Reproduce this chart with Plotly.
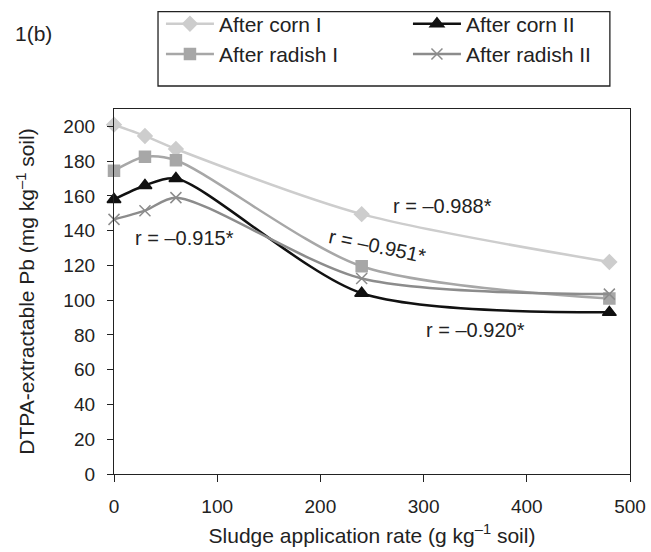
import plotly.graph_objects as go

rates = [0, 30, 60, 240, 480]
corn1 = [201, 194.5, 187, 149.5, 122]
radish1 = [174.5, 182.5, 180.5, 119.5, 101]
corn2 = [158, 166, 170, 104, 93]
radish2 = [146.5, 151.5, 159, 112.5, 103.5]

series_names = ["After corn I", "After corn II", "After radish I", "After radish II"]
x_ticks = [0, 100, 200, 300, 400, 500]
y_ticks = [0, 20, 40, 60, 80, 100, 120, 140, 160, 180, 200]

r_labels = ["r = –0.988*", "r = –0.951*", "r = –0.915*", "r = –0.920*"]
r_x = [318, 255, 68, 350]
r_y = [154, 131, 136, 83]
r_angle = [0, 12, 0, 0]

FONT = "Liberation Sans, Arial, sans-serif"
INK = "#222222"

fig = go.Figure()
styles = {
    "After corn I": (corn1, "#cdcdcd", "diamond", 11),
    "After corn II": (corn2, "#111111", "triangle-up", 12),
    "After radish I": (radish1, "#a7a7a7", "square", 11),
    "After radish II": (radish2, "#8c8c8c", "x-thin-open", 11),
}
for name in series_names:
    ys, col, sym, sz = styles[name]
    fig.add_trace(go.Scatter(
        x=rates, y=ys, name=name, mode="lines+markers", cliponaxis=False,
        line=dict(color=col, width=2.5, shape="spline", smoothing=0.8),
        marker=dict(symbol=sym, size=sz, color=col, line=dict(color=col, width=1.5)),
    ))

for t, x, y, a in zip(r_labels, r_x, r_y, r_angle):
    fig.add_annotation(x=x, y=y, text=t, showarrow=False, textangle=a,
                       font=dict(size=20, color=INK, family=FONT))

fig.add_annotation(xref="paper", yref="paper", x=-0.196, y=1.208, text="1(b)",
                   showarrow=False, xanchor="left", yanchor="middle",
                   font=dict(size=21, color=INK, family=FONT))

fig.add_shape(type="rect", xref="paper", yref="paper", x0=0.0853, x1=0.961, y0=1.063, y1=1.2666,
              line=dict(color=INK, width=1.3), fillcolor="rgba(0,0,0,0)")

fig.update_layout(
    width=651, height=552,
    margin=dict(l=114, r=21, t=109, b=78, autoexpand=False),
    paper_bgcolor="white", plot_bgcolor="white",
    font=dict(family=FONT, size=19, color=INK),
    showlegend=True,
    legend=dict(orientation="h", x=0.091, y=1.289, xanchor="left", yanchor="top",
                entrywidth=184, traceorder="normal", font=dict(size=21, color=INK),
                bgcolor="rgba(0,0,0,0)", borderwidth=0, itemwidth=48),
    xaxis=dict(range=[0, 500], tickvals=x_ticks, showgrid=False, zeroline=False,
               showline=True, linecolor=INK, linewidth=1.3, mirror=True,
               ticks="outside", ticklen=7, tickcolor=INK, ticklabelstandoff=8,
               automargin=False, tickfont=dict(size=19),
               title=dict(text="Sludge application rate (g kg<sup>–1</sup> soil)", standoff=12,
                          font=dict(size=21))),
    yaxis=dict(range=[0, 210], tickvals=y_ticks, showgrid=False, zeroline=False,
               showline=True, linecolor=INK, linewidth=1.3, mirror=True,
               ticks="outside", ticklen=6, tickcolor=INK, ticklabelstandoff=8,
               automargin=False, tickfont=dict(size=19),
               title=dict(text="DTPA-extractable Pb (mg kg<sup>–1</sup> soil)", standoff=22,
                          font=dict(size=21))),
)

fig.write_html("out.html", config={"displayModeBar": False},
               post_script="document.body.style.margin='0';document.body.style.overflow='hidden';")
